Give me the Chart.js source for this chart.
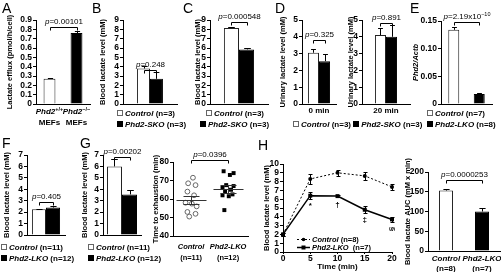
<!DOCTYPE html>
<html>
<head>
<meta charset="utf-8">
<script src="https://cdn.jsdelivr.net/npm/chart.js@4.4.1/dist/chart.umd.min.js"></script>
<style>
  body { margin: 0; background: #fff; }
  #fig { position: relative; width: 501px; height: 272px; overflow: hidden; font-family: "Liberation Sans", Arial, sans-serif; color: #000; }
  #fig canvas { position: absolute; }
  .lt { position: absolute; font-size: 14px; line-height: 14px; }
  .lg { position: absolute; font-size: 8px; font-weight: bold; line-height: 10px; white-space: nowrap; }
  .bx { display: inline-block; width: 4px; height: 4px; border: 1px solid #666; margin-right: 2px; }
  .bx.k { width: 6px; height: 6px; border: 0; background: #000; }
</style>
</head>
<body>
<div id="fig"></div>
<script>
const FF = '"Liberation Sans", Arial, sans-serif'

// A: MEF lactate efflux
const mefGenotypes = ['+/+', '\u2212/\u2212']
const efflux = [0.27, 0.76]
const effluxErr = [0.008, 0.02]
// B, C: Phd2-SKO blood lactate, rest and after exercise
const skoRest = [3.8, 2.7]
const skoRestErr = [0.3, 0.75]
const skoExercise = [8.15, 5.85]
const skoExerciseErr = [0.1, 0.15]
// D: urinary lactate
const urineTimes = ['0 min', '20 min']
const urine0 = [3.05, 2.55]
const urine0Err = [0.25, 0.4]
const urine20 = [4.1, 4.0]
const urine20Err = [0.45, 0.7]
// E: liver Phd2 mRNA
const phd2Actb = [0.134, 0.018]
const phd2ActbErr = [0.006, 0.001]
// F, G: Phd2-LKO blood lactate
const lkoRest = [2.25, 2.4]
const lkoRestErr = [0.05, 0.15]
const lkoExercise = [6.0, 3.55]
const lkoExerciseErr = [0.65, 0.35]
// G right: time to exhaustion
const exhaustCtrl = [71.5, 68.5, 67.5, 64, 62, 58, 57.5, 56, 53, 52, 50.5]
const exhaustCtrlJitter = [0.05, -0.08, 0.12, -0.1, 0.08, -0.15, 0.02, 0.15, -0.1, 0.12, -0.05]
const exhaustLko = [75, 74, 73, 67.5, 67, 66, 65, 64, 62.5, 62, 61.5, 54]
const exhaustLkoJitter = [-0.12, 0.15, 0.05, -0.05, 0.15, -0.15, 0.08, -0.08, 0.12, -0.15, 0.02, -0.1]
const exhaustMean = [59.3, 65.4]
const exhaustSem = [2.2, 1.9]
// H: lactate time course and AUC
const minutes = [0, 5, 10, 15, 20]
const ctrlLactate = [2.0, 8.3, 9.0, 8.65, 7.4]
const ctrlLactateErr = [0.2, 0.55, 0.35, 0.45, 0.35]
const lkoLactate = [2.0, 6.4, 6.35, 4.8, 3.7]
const lkoLactateErr = [0.2, 0.4, 0.15, 0.4, 0.3]
const lkoMarks = [null, '*', '\u2020', '\u2021', '\u00a7']
const auc = [153, 100]
const aucErr = [4, 8]

const fig = document.getElementById('fig')
const FILL = ['#fff', '#000']
const EDGE = ['#222', '#000']
const font = (size, weight = 'bold', style = 'normal') => `${style} ${weight} ${size}px ${FF}`
const it = (t, s = 8) => ({ t, f: font(s, 'bold', 'italic') })
const rm = (t, s = 8) => ({ t, f: font(s) })
const pv = (t) => [{ t: 'p', f: font(8, 'normal', 'italic') }, { t: '=' + t, f: font(8, 'normal') }]

function drawRuns(ctx, runs, x, y, align = 'center') {
  ctx.save()
  ctx.textBaseline = 'middle'
  ctx.textAlign = 'left'
  ctx.fillStyle = '#000'
  let w = 0
  for (const r of runs) {
    ctx.font = r.f
    r.w = ctx.measureText(r.t).width
    w += r.w
  }
  if (align === 'center') x -= w / 2
  for (const r of runs) {
    ctx.font = r.f
    ctx.fillText(r.t, x, y + (r.dy || 0))
    x += r.w
  }
  ctx.restore()
}

function bracket(ctx, xa, xb, y, runs) {
  xa = Math.round(xa) + 0.5
  xb = Math.round(xb) + 0.5
  y = Math.round(y) + 0.5
  ctx.save()
  ctx.strokeStyle = '#000'
  ctx.lineWidth = 1
  ctx.beginPath()
  ctx.moveTo(xa, y + 3)
  ctx.lineTo(xa, y)
  ctx.lineTo(xb, y)
  ctx.lineTo(xb, y + 3)
  ctx.stroke()
  ctx.restore()
  drawRuns(ctx, runs, (xa + xb) / 2, y - 5.5)
}

// canvas placed so that the chart area lands on the wanted page pixels
function place(g) {
  const c = document.createElement('canvas')
  const axW = Math.round(g.x0 - g.tx + 4.5)
  const left = g.x0 - axW
  c.width = g.x1 + g.padR - left
  c.height = g.bottom - g.top
  c.style.left = left + 'px'
  c.style.top = g.top + 'px'
  fig.appendChild(c)
  return { c, axW, padTop: g.yT - g.top, padR: g.padR, xAxH: g.bottom - g.yB }
}

const baseOptions = (p, scales) => ({
  responsive: false,
  animation: false,
  devicePixelRatio: 1,
  layout: { padding: { left: 0, top: p.padTop, right: p.padR, bottom: 0 }, autoPadding: false },
  plugins: { legend: { display: false }, tooltip: { enabled: false } },
  scales,
})

const yAxis = (p, max, step, title, fmt, extra, titleStyle) => Object.assign({
  min: 0,
  max,
  ticks: { stepSize: step, autoSkip: false, font: { size: 8.5, weight: 'bold' }, color: '#000', padding: 1, callback: fmt || ((v) => String(v)) },
  grid: { drawOnChartArea: false, tickLength: 3, color: '#000' },
  border: { color: '#000' },
  title: { display: true, text: title, font: { size: 7.5, weight: 'bold', style: titleStyle || 'normal' }, padding: 0, color: '#000' },
  afterFit: (s) => { s.width = p.axW },
}, extra)

const xAxis = (p, extra) => Object.assign({
  ticks: { display: false },
  grid: { display: false },
  border: { color: '#000' },
  afterFit: (s) => { s.height = p.xAxH },
}, extra)

const barDecor = (errs, p) => ({
  id: 'barDecor',
  afterDatasetsDraw(chart) {
    const ctx = chart.ctx
    const y = chart.scales.y
    const bars = []
    chart.data.datasets.forEach((ds, di) =>
      chart.getDatasetMeta(di).data.forEach((el, i) => bars.push({ el, v: ds.data[i] })))
    ctx.save()
    ctx.strokeStyle = '#000'
    ctx.lineWidth = 1
    bars.forEach((b, k) => {
      const x = Math.round(b.el.x) + 0.5
      const y0 = y.getPixelForValue(b.v)
      const y1 = Math.round(y.getPixelForValue(b.v + errs[k])) + 0.5
      const cw = Math.max(2, b.el.width * 0.22)
      ctx.beginPath()
      ctx.moveTo(x, y0)
      ctx.lineTo(x, y1)
      ctx.moveTo(x - cw, y1)
      ctx.lineTo(x + cw, y1)
      ctx.stroke()
    })
    ctx.restore()
    if (p) bracket(ctx, bars[0].el.x, bars[1].el.x, y.getPixelForValue(p.at), p.runs)
  },
})

const catLabels = (cats) => ({
  id: 'catLabels',
  afterDraw(chart) {
    const x = chart.scales.x
    const b = chart.chartArea.bottom
    cats.forEach((c) => c.lines.forEach((l) => drawRuns(chart.ctx, l.runs, x.getPixelForValue(c.at), b + l.dy)))
  },
})

function barPanel(g, o) {
  const p = place(g)
  const datasets = o.grouped
    ? o.values.map((v, i) => ({ data: [v], backgroundColor: FILL[i], borderColor: EDGE[i], borderWidth: 1, categoryPercentage: o.cat, barPercentage: 1 }))
    : [{ data: o.values, backgroundColor: FILL, borderColor: EDGE, borderWidth: 1, categoryPercentage: 1, barPercentage: o.bar }]
  new Chart(p.c, {
    type: 'bar',
    data: { labels: o.grouped ? [''] : o.values.map((_, i) => String(i)), datasets },
    options: baseOptions(p, { x: xAxis(p), y: yAxis(p, o.max, o.step, o.title, o.fmt, {}, o.titleStyle) }),
    plugins: [barDecor(o.errs, o.p), catLabels(o.cats || [])],
  })
}

function letter(t, x, y) {
  const d = document.createElement('div')
  d.className = 'lt'
  d.style.left = x + 'px'
  d.style.top = y + 'px'
  d.textContent = t
  fig.appendChild(d)
}

function legend(xs, y, rows) {
  rows.forEach((r, i) => {
    const d = document.createElement('div')
    d.className = 'lg'
    d.style.left = xs[i] + 'px'
    d.style.top = y + i * 11 + 'px'
    d.innerHTML = r
    fig.appendChild(d)
  })
}
const item = (k, name, n) => `<span class="bx${k ? ' k' : ''}"></span><i>${name}</i> ${n}`

// ---------- top row ----------
const fmt1 = (v) => (v === 0 ? '0' : v.toFixed(1))
const fmt2 = (v) => (v === 0 ? '0' : v.toFixed(2))
const mefCats = mefGenotypes.map((gt, i) => ({
  at: i,
  lines: [
    { dy: 8, runs: [it('Phd2'), { t: gt, f: font(5.5), dy: -3 }] },
    { dy: 19, runs: [rm('MEFs')] },
  ],
}))

barPanel({ x0: 36, x1: 90, yT: 20, yB: 104, tx: 10, top: 0, bottom: 134, padR: 4 }, {
  values: efflux, errs: effluxErr, bar: 0.44, max: 0.9, step: 0.1, fmt: fmt1,
  title: 'Lactate efflux (pmol/h/cell)', p: { at: 0.825, runs: pv('0.00101') }, cats: mefCats,
})
barPanel({ x0: 123, x1: 177, yT: 20, yB: 104, tx: 103, top: 0, bottom: 134, padR: 3 }, {
  values: skoRest, errs: skoRestErr, grouped: true, cat: 0.48, max: 9, step: 1,
  title: 'Blood lactate level (mM)', p: { at: 3.6, runs: pv('0.248') },
})
barPanel({ x0: 210, x1: 268, yT: 20, yB: 104, tx: 198, top: 0, bottom: 134, padR: 3 }, {
  values: skoExercise, errs: skoExerciseErr, grouped: true, cat: 0.52, max: 9, step: 1,
  title: 'Blood lactate level (mM)', p: { at: 8.8, runs: pv('0.000548') },
})
barPanel({ x0: 302, x1: 336, yT: 20, yB: 104, tx: 283, top: 0, bottom: 134, padR: 2 }, {
  values: urine0, errs: urine0Err, grouped: true, cat: 0.65, max: 5, step: 1,
  title: 'Urinary lactate level (mM)', p: { at: 3.8, runs: pv('0.325') },
  cats: [{ at: 0, lines: [{ dy: 7, runs: [rm(urineTimes[0])] }] }],
})
barPanel({ x0: 362, x1: 410, yT: 20, yB: 104, tx: 351, top: 0, bottom: 134, padR: 2 }, {
  values: urine20, errs: urine20Err, grouped: true, cat: 0.46, max: 5, step: 1,
  title: 'Urinary lactate level (mM)', p: { at: 4.82, runs: pv('0.891') },
  cats: [{ at: 0, lines: [{ dy: 7, runs: [rm(urineTimes[1])] }] }],
})
barPanel({ x0: 441, x1: 492, yT: 21, yB: 104, tx: 416, top: 0, bottom: 134, padR: 9 }, {
  values: phd2Actb, errs: phd2ActbErr, bar: 0.43, max: 0.15, step: 0.05, fmt: fmt2,
  title: 'Phd2/Actb', titleStyle: 'italic',
  p: { at: 0.149, runs: [...pv('2.19x10'), { t: '\u221210', f: font(5.5, 'normal'), dy: -3 }] },
})

// ---------- bottom row ----------
barPanel({ x0: 27, x1: 65, yT: 155, yB: 235, tx: 7, top: 130, bottom: 272, padR: 2 }, {
  values: lkoRest, errs: lkoRestErr, grouped: true, cat: 0.74, max: 7, step: 1,
  title: 'Blood lactate level (mM)', p: { at: 2.89, runs: pv('0.405') },
})
barPanel({ x0: 103, x1: 141, yT: 155, yB: 235, tx: 85, top: 130, bottom: 272, padR: 2 }, {
  values: lkoExercise, errs: lkoExerciseErr, grouped: true, cat: 0.79, max: 7, step: 1,
  title: 'Blood lactate level (mM)', p: { at: 6.82, runs: pv('0.00202') },
})

// time to exhaustion scatter
const sp = place({ x0: 173, x1: 248, yT: 162, yB: 236, tx: 156, top: 130, bottom: 272, padR: 3 })
const meanSem = {
  id: 'meanSem',
  afterDatasetsDraw(chart) {
    const ctx = chart.ctx
    const x = chart.scales.x
    const y = chart.scales.y
    ctx.save()
    ctx.strokeStyle = '#333'
    ctx.lineWidth = 1
    exhaustMean.forEach((m, i) => {
      const cx = Math.round(x.getPixelForValue(i + 1)) + 0.5
      const ym = Math.round(y.getPixelForValue(m)) + 0.5
      const yt = Math.round(y.getPixelForValue(m + exhaustSem[i])) + 0.5
      const yb = Math.round(y.getPixelForValue(m - exhaustSem[i])) + 0.5
      ctx.beginPath()
      ctx.moveTo(cx - 15, ym); ctx.lineTo(cx + 15, ym)
      ctx.moveTo(cx - 8, yt); ctx.lineTo(cx + 8, yt)
      ctx.moveTo(cx - 8, yb); ctx.lineTo(cx + 8, yb)
      ctx.moveTo(cx, yt); ctx.lineTo(cx, yb)
      ctx.stroke()
    })
    ctx.restore()
    bracket(ctx, x.getPixelForValue(1), x.getPixelForValue(2), y.getPixelForValue(81.2), pv('0.0396'))
  },
}
new Chart(sp.c, {
  type: 'scatter',
  data: {
    datasets: [
      { data: exhaustCtrl.map((v, i) => ({ x: 1 + exhaustCtrlJitter[i], y: v })), pointStyle: 'circle', pointRadius: 2.4, borderColor: '#666', backgroundColor: '#fff', borderWidth: 1, clip: false },
      { data: exhaustLko.map((v, i) => ({ x: 2 + exhaustLkoJitter[i], y: v })), pointStyle: 'rect', pointRadius: 2.8, borderColor: '#000', backgroundColor: '#000', borderWidth: 0, clip: false },
    ],
  },
  options: baseOptions(sp, {
    x: xAxis(sp, { type: 'linear', min: 0.51, max: 2.54 }),
    y: yAxis(sp, 80, 10, 'Time to exhaustion (min)', null, { min: 40 }),
  }),
  plugins: [meanSem, catLabels([
    { at: 1, lines: [{ dy: 11, runs: [it('Control', 7.5)] }, { dy: 22, runs: [rm('(n=11)', 7.5)] }] },
    { at: 2, lines: [{ dy: 11, runs: [it('Phd2-LKO', 7.5)] }, { dy: 22, runs: [rm('(n=12)', 7.5)] }] },
  ])],
})

// H time course
const hp = place({ x0: 283, x1: 392, yT: 164, yB: 252, tx: 267, top: 130, bottom: 272, padR: 8 })
const errSets = [ctrlLactateErr, lkoLactateErr]
const hDecor = {
  id: 'hDecor',
  afterDatasetsDraw(chart) {
    const ctx = chart.ctx
    const y = chart.scales.y
    ctx.save()
    ctx.strokeStyle = '#000'
    ctx.lineWidth = 1
    chart.data.datasets.forEach((ds, di) => chart.getDatasetMeta(di).data.forEach((el, i) => {
      const v = ds.data[i].y
      const e = errSets[di][i]
      const x = Math.round(el.x) + 0.5
      const a = Math.round(y.getPixelForValue(v + e)) + 0.5
      const b = Math.round(y.getPixelForValue(v - e)) + 0.5
      ctx.beginPath()
      ctx.moveTo(x, a); ctx.lineTo(x, b)
      ctx.moveTo(x - 2, a); ctx.lineTo(x + 2, a)
      ctx.moveTo(x - 2, b); ctx.lineTo(x + 2, b)
      ctx.stroke()
    }))
    ctx.restore()
    const lko = chart.getDatasetMeta(1).data
    lkoMarks.forEach((m, i) => {
      if (!m) return
      const py = y.getPixelForValue(lkoLactate[i] - lkoLactateErr[i]) + 7
      if (m === '\u00a7') {
        ctx.save()
        ctx.translate(lko[i].x, py)
        ctx.rotate(Math.PI / 2)
        drawRuns(ctx, [rm(m, 8)], 0, 0)
        ctx.restore()
      } else drawRuns(ctx, [rm(m, 8)], lko[i].x, py)
    })
    // legend inside the plot
    const L = chart.chartArea.left
    const B = chart.chartArea.bottom
    const rows = [
      { y: B - 13, dash: [2, 2], rect: false, runs: [it('Control', 7.5), rm(' (n=8)', 7.5)] },
      { y: B - 5, dash: [], rect: true, runs: [it('Phd2-LKO', 7.5), rm('  (n=7)', 7.5)] },
    ]
    rows.forEach((r) => {
      const yy = Math.round(r.y) + 0.5
      ctx.save()
      ctx.strokeStyle = '#000'
      ctx.lineWidth = r.rect ? 1.5 : 1
      ctx.setLineDash(r.dash)
      ctx.beginPath()
      ctx.moveTo(L + 14, yy)
      ctx.lineTo(L + 27, yy)
      ctx.stroke()
      ctx.fillStyle = '#000'
      ctx.beginPath()
      if (r.rect) ctx.rect(L + 18.5, yy - 2, 4, 4)
      else ctx.arc(L + 20.5, yy, 1.8, 0, Math.PI * 2)
      ctx.fill()
      ctx.restore()
      drawRuns(ctx, r.runs, L + 29, yy, 'left')
    })
  },
}
new Chart(hp.c, {
  type: 'line',
  data: {
    datasets: [
      { data: minutes.map((t, i) => ({ x: t, y: ctrlLactate[i] })), borderColor: '#000', borderWidth: 1, borderDash: [2, 2], pointStyle: 'circle', pointRadius: 2, pointBackgroundColor: '#000', pointBorderWidth: 0, clip: false },
      { data: minutes.map((t, i) => ({ x: t, y: lkoLactate[i] })), borderColor: '#000', borderWidth: 1.5, pointStyle: 'rect', pointRadius: 2.8, pointBackgroundColor: '#000', pointBorderWidth: 0, clip: false },
    ],
  },
  options: baseOptions(hp, {
    x: {
      type: 'linear', min: 0, max: 20,
      ticks: { stepSize: 5, font: { size: 8.5, weight: 'bold' }, color: '#000', padding: 0 },
      grid: { drawOnChartArea: false, tickLength: 2, color: '#000' },
      border: { color: '#000' },
      title: { display: true, text: 'Time (min)', font: { size: 8, weight: 'bold' }, padding: 0, color: '#000' },
      afterFit: (s) => { s.height = hp.xAxH },
    },
    y: yAxis(hp, 10, 1, 'Blood lactate level (mM)', null, {}),
  }),
  plugins: [hDecor],
})

// H AUC
barPanel({ x0: 428, x1: 500, yT: 172, yB: 251, tx: 408, top: 130, bottom: 272, padR: 1 }, {
  values: auc, errs: aucErr, bar: 0.39, max: 200, step: 50,
  title: 'Blood lactate AUC (mM x min)', p: { at: 180, runs: pv('0.0000253') },
  cats: [
    { at: 0, lines: [{ dy: 8, runs: [it('Control')] }, { dy: 18, runs: [rm('(n=8)')] }] },
    { at: 1, lines: [{ dy: 8, runs: [it('Phd2-LKO')] }, { dy: 18, runs: [rm('(n=7)')] }] },
  ],
})

// ---------- legends and panel letters ----------
legend([117, 117], 109, [item(false, 'Control', '(n=3)'), item(true, 'Phd2-SKO', '(n=3)')])
legend([206, 200], 109, [item(false, 'Control', '(n=3)'), item(true, 'Phd2-SKO', '(n=3)')])
legend([293], 120, [item(false, 'Control', '(n=3)') + ' ' + item(true, 'Phd2-SKO', '(n=3)')])
legend([427, 427], 109, [item(false, 'Control', '(n=7)'), item(true, 'Phd2-LKO', '(n=8)')])
legend([1, 1], 243, [item(false, 'Control', '(n=11)'), item(true, 'Phd2-LKO', '(n=12)')])
legend([88, 88], 243, [item(false, 'Control', '(n=11)'), item(true, 'Phd2-LKO', '(n=12)')])

;[['A', 2, 1], ['B', 92, 1], ['C', 183, 1], ['D', 275, 1], ['E', 410, 1], ['F', 2, 136], ['G', 80, 136], ['H', 258, 138]]
  .forEach(([t, x, y]) => letter(t, x, y))
</script>
</body>
</html>
